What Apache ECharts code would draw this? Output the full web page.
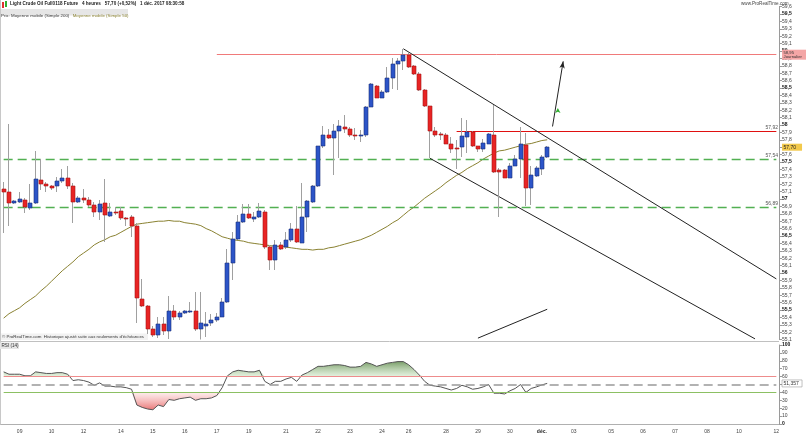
<!DOCTYPE html>
<html><head><meta charset="utf-8">
<script src="https://cdn.jsdelivr.net/npm/echarts@6/dist/echarts.min.js"></script>
<style>html,body{margin:0;padding:0;background:#fff}#c{width:806px;height:437px}</style>
</head><body><div id="c"></div><script>
// ---- time axis: days and 4h bars per day ----
const dayLabels  = ['08','09','10','12','13','14','15','16','17','19','20','21','22','23','24','26','27','28','29','30','déc.','03','04','05','06','07','08','10','11','12'];
const barsPerDay = [3,6,6,1,6,6,6,6,6,1,6,6,6,6,5,1,6,6,6,6,6,1,6,6,6,6,6,1,6,1];
const hiddenDayLabels = ['13','20','27','04','11'];

// ---- price candles (4 heures) ----
const opens  = [57.13,57.09,56.95,56.96,56.98,56.88,56.94,57.26,57.20,57.17,57.17,57.24,57.28,57.18,56.96,57.02,56.99,56.92,56.82,56.94,56.77,56.83,56.84,56.75,56.76,56.64,55.65,55.56,55.24,55.16,55.31,55.22,55.49,55.41,55.46,55.47,55.49,55.25,55.28,55.32,55.36,55.41,55.61,56.14,56.46,56.69,56.80,56.73,56.76,56.83,56.35,56.18,56.38,56.35,56.45,56.60,56.41,56.76,56.96,57.17,57.71,57.86,57.82,57.92,57.97,57.94,57.87,57.86,57.87,58.25,58.53,58.37,58.44,58.63,58.82,58.87,58.94,58.80,58.69,58.47,58.26,57.92,57.88,57.86,57.75,57.69,57.70,57.84,57.91,57.71,57.67,57.75,57.87,57.39,57.39,57.29,57.45,57.54,57.73,57.15,57.31,57.41,57.57];
const closes = [57.09,56.94,56.97,57.00,56.89,56.94,57.27,57.20,57.17,57.15,57.24,57.28,57.18,56.96,57.02,56.99,56.92,56.82,56.93,56.78,56.82,56.81,56.75,56.73,56.64,55.66,55.56,55.24,55.16,55.31,55.22,55.49,55.40,55.46,55.48,55.49,55.25,55.32,55.31,55.36,55.41,55.61,56.14,56.46,56.69,56.80,56.75,56.76,56.84,56.35,56.18,56.38,56.33,56.45,56.59,56.42,56.76,56.97,57.18,57.71,57.86,57.82,57.92,57.98,57.94,57.87,57.86,57.87,58.25,58.55,58.37,58.44,58.63,58.82,58.87,58.94,58.79,58.69,58.47,58.26,57.92,57.87,57.86,57.75,57.67,57.67,57.85,57.91,57.71,57.67,57.76,57.88,57.37,57.36,57.29,57.45,57.54,57.74,57.15,57.33,57.42,57.57,57.70];
const lows   = [56.54,56.63,56.93,56.94,56.81,56.85,56.93,57.12,57.10,57.12,57.10,57.21,57.14,56.67,56.94,56.94,56.89,56.76,56.72,56.42,56.76,56.78,56.72,56.63,56.49,55.32,55.54,55.18,55.14,55.12,55.16,55.11,55.36,55.36,55.45,55.46,55.22,55.10,55.14,55.28,55.34,55.40,55.59,55.91,56.45,56.68,56.73,56.69,56.74,56.32,56.04,56.04,56.31,56.33,56.42,56.40,56.40,56.56,56.95,57.16,57.69,57.81,57.32,57.55,57.89,57.84,57.80,57.77,57.84,58.24,58.36,58.36,58.43,58.48,58.47,58.74,58.77,58.68,58.46,58.25,57.55,57.84,57.80,57.74,57.62,57.41,57.57,57.62,57.70,57.64,57.64,57.74,57.35,56.76,57.28,57.28,57.44,57.28,56.90,56.92,57.30,57.32,57.56];
const highs  = [57.23,58.02,56.99,57.10,57.02,57.20,57.65,57.54,57.23,57.19,57.30,57.41,57.45,57.21,57.04,57.14,57.03,56.96,56.99,57.27,56.94,56.89,56.89,56.76,56.78,56.67,55.92,55.57,55.29,55.41,55.41,55.69,55.57,55.49,55.50,55.61,55.74,55.74,55.47,55.45,55.46,55.66,56.33,56.55,56.78,56.93,56.93,56.82,56.95,56.85,56.38,56.45,56.42,56.56,56.67,56.90,57.22,56.99,57.19,57.72,57.98,57.94,58.02,58.07,58.14,57.97,57.96,57.93,58.26,58.57,58.54,58.47,58.79,58.90,58.90,59.03,58.97,58.81,58.71,58.48,58.26,57.97,57.91,57.89,57.84,57.80,58.10,58.07,57.92,57.72,57.81,57.89,58.27,57.42,57.41,57.48,57.59,57.97,57.89,57.44,57.45,57.59,57.71];

// ---- Moyenne mobile (Simple 50) ----
const ma50 = [55.39,55.45,55.49,55.53,55.59,55.64,55.69,55.76,55.82,55.89,55.96,56.03,56.09,56.15,56.22,56.27,56.32,56.38,56.42,56.45,56.49,56.51,56.55,56.59,56.63,56.66,56.67,56.68,56.69,56.70,56.70,56.71,56.70,56.70,56.68,56.67,56.66,56.64,56.60,56.57,56.53,56.49,56.47,56.45,56.44,56.43,56.41,56.40,56.39,56.38,56.37,56.36,56.36,56.35,56.34,56.33,56.32,56.32,56.31,56.32,56.32,56.34,56.35,56.37,56.39,56.41,56.43,56.45,56.48,56.51,56.55,56.59,56.63,56.68,56.72,56.78,56.84,56.89,56.95,57.01,57.06,57.11,57.16,57.22,57.27,57.32,57.36,57.41,57.45,57.49,57.54,57.58,57.62,57.65,57.66,57.68,57.70,57.72,57.74,57.75,57.77,57.79,57.80];

// ---- RSI (14) ----
const rsi14 = [66,63,63,63,61,61,66,65,64,64,65,65,63,55,56,55,53,49,52,48,48,47,47,46,44,24,21,19,18,24,22,31,30,32,33,34,30,32,32,33,36,46,61,66,68,67,66,66,68,54,50,54,54,57,59,54,62,65,69,73,73,74,75,75,74,72,72,73,78,76,73,75,77,78,79,79,75,69,62,54,49,48,47,45,43,45,49,47,44,45,47,50,39,39,38,42,45,50,40,45,47,49.5,51.357];
const rsiUpper = 60, rsiMid = 50, rsiLower = 40, rsiLast = 51.357;

// ---- levels & drawings ----
const lastPrice = 57.70;
const dailyLevel = 58.95;
const resistance = {value:57.92, from:85};
const greenLevels = [57.54, 56.89];
const trendLines = [
  [[75,59.03],[145,55.92]],
  [[80,57.55],[141,55.11]],
  [[89,55.12],[102,55.51]]
];
const arrowLine = [[103,57.98],[105,58.86]];
const upMarker = [104, 58.23];

// ---- build categories ----
const categories = [];
const firstOfDay = {};
dayLabels.forEach((d, di) => {
  for (let k = 0; k < barsPerDay[di]; k++) {
    if (k === 0) firstOfDay[categories.length] = d;
    categories.push(d + '|' + di + '|' + k);
  }
});
const lastIdx = categories.length - 1;
const candleData = opens.map((o, i) => [i, o, closes[i], lows[i], highs[i]]);

const fmtPrice = v => {
  const r = Math.round(v * 10) / 10;
  const s = (Math.abs(r - Math.round(r)) < 1e-6) ? String(Math.round(r)) : r.toFixed(1).replace('.', ',');
  const bold = Math.abs(r * 2 - Math.round(r * 2)) < 1e-6;
  return bold ? '{b|' + s + '}' : s;
};
const FONT = 'Liberation Sans';
const lvlLabel = v => v.toFixed(2).replace('.', ',');

const segSeries = (grid, pairs, lineStyle, z) => ({
  type: 'line', xAxisIndex: grid, yAxisIndex: grid, data: [], symbol: 'none', z: z || 3,
  markLine: {silent: true, symbol: 'none', animation: false, lineStyle: lineStyle, label: {show: false},
    data: pairs.map(p => [{coord: p[0]}, {coord: p[1]}])}
});

const baseGraphic = [
  {type: 'rect', shape: {x: 2, y: 2, width: 2, height: 6}, style: {fill: '#e03030'}},
  {type: 'rect', shape: {x: 5, y: 1, width: 2, height: 6}, style: {fill: '#30b030'}},
  {type: 'text', x: 10, y: 1.5, style: {text: 'Light Crude Oil Full0118 Future   4 heures   57,70 (+0,52%)   1 déc. 2017 08:30:58',
    fontSize: 4.6, fontWeight: 'bold', fill: '#222', fontFamily: FONT}},
  {type: 'rect', shape: {x: 0, y: 9, width: 128, height: 6.5}, style: {fill: '#e6e6e6'}},
  {type: 'text', x: 1, y: 10, style: {
    text: '{a|Prix: Moyenne mobile (Simple 200)} {b|Moyenne mobile (Simple 50)}',
    rich: {a: {fontSize: 4.4, fill: '#333', fontFamily: FONT}, b: {fontSize: 4.4, fill: '#8a8232', fontFamily: FONT}}}},
  {type: 'text', x: 741, y: 1.5, style: {text: 'www.ProRealTime.com', fontSize: 4.6, fill: '#444', fontFamily: FONT}},
  {type: 'rect', shape: {x: 0, y: 333.5, width: 148, height: 6.5}, style: {fill: 'rgba(240,240,240,0.85)'}},
  {type: 'text', x: 2, y: 334.5, style: {text: '© ProRealTime.com  Historique ajusté suite aux roulements d\'échéances', fontSize: 4.4, fill: '#333', fontFamily: FONT}},
  {type: 'line', shape: {x1: 0, y1: 341.5, x2: 779, y2: 341.5}, style: {stroke: '#c0c0c0', lineWidth: 1}},
  {type: 'line', shape: {x1: 0.5, y1: 0, x2: 0.5, y2: 425}, style: {stroke: '#c8c8c8', lineWidth: 1}},
  {type: 'rect', shape: {x: 0, y: 342.5, width: 19, height: 6.5}, style: {fill: '#e6e6e6'}},
  {type: 'text', x: 1.5, y: 343.5, style: {text: 'RSI (14)', fontSize: 4.6, fill: '#333', fontFamily: FONT}}
];

const chart = echarts.init(document.getElementById('c'), null, {renderer: 'canvas', width: 806, height: 437});
const option = {
  animation: false,
  backgroundColor: '#ffffff',
  textStyle: {fontFamily: FONT},
  grid: [
    {left: 1, top: 6.6, width: 778, height: 333},
    {left: 1, top: 345, width: 778, height: 79}
  ],
  xAxis: [
    {type: 'category', gridIndex: 0, data: categories, boundaryGap: true,
     axisLine: {show: false}, axisTick: {show: false}, axisLabel: {show: false}, splitLine: {show: false}},
    {type: 'category', gridIndex: 1, data: categories, boundaryGap: true,
     axisLine: {show: true, lineStyle: {color: '#b0b0b0'}}, axisTick: {show: false},
     axisLabel: {
       interval: (i) => i > 0 && firstOfDay[i] !== undefined && hiddenDayLabels.indexOf(firstOfDay[i]) < 0,
       formatter: (v) => { const d = v.split('|')[0]; return d === 'déc.' ? '{b|' + d + '}' : d; },
       fontSize: 5, color: '#444', margin: 5, fontFamily: FONT,
       rich: {b: {fontSize: 5, fontWeight: 'bold', color: '#222', fontFamily: FONT}}
     },
     splitLine: {show: false}}
  ],
  yAxis: [
    {type: 'value', gridIndex: 0, position: 'right', min: 55.1, max: 59.6, interval: 0.1,
     axisLine: {show: true, lineStyle: {color: '#9a9a9a'}},
     axisTick: {show: true, length: 3, lineStyle: {color: '#9a9a9a'}},
     axisLabel: {formatter: fmtPrice, fontSize: 5, color: '#444', margin: 3, fontFamily: FONT,
                 rich: {b: {fontSize: 5, fontWeight: 'bold', color: '#111', fontFamily: FONT}}},
     splitLine: {show: false}},
    {type: 'value', gridIndex: 1, position: 'right', min: 0, max: 100, interval: 10,
     axisLine: {show: true, lineStyle: {color: '#9a9a9a'}},
     axisTick: {show: true, length: 3, lineStyle: {color: '#9a9a9a'}},
     axisLabel: {formatter: v => v === 50 ? '' : ((v === 100 || v === 0) ? '{b|' + v + '}' : String(v)),
                 fontSize: 5, color: '#444', margin: 3, fontFamily: FONT,
                 rich: {b: {fontSize: 5, fontWeight: 'bold', color: '#111', fontFamily: FONT}}},
     splitLine: {show: false}}
  ],
  series: [
    {
      type: 'custom', name: 'Prix', xAxisIndex: 0, yAxisIndex: 0, data: candleData,
      encode: {x: 0, y: [1, 2, 3, 4]}, z: 5, clip: true,
      renderItem: (params, api) => {
        const i = api.value(0), o = api.value(1), c = api.value(2), l = api.value(3), h = api.value(4);
        const pO = api.coord([i, o]), pC = api.coord([i, c]), pL = api.coord([i, l]), pH = api.coord([i, h]);
        const cx = Math.round(pO[0]);
        const up = c >= o;
        const top = Math.round(Math.min(pO[1], pC[1])), bot = Math.round(Math.max(pO[1], pC[1]));
        return {type: 'group', children: [
          {type: 'line', shape: {x1: cx - 0.5, y1: Math.round(pH[1]), x2: cx - 0.5, y2: Math.round(pL[1])},
           style: {stroke: '#a0a0a0', lineWidth: 1}},
          {type: 'rect', shape: {x: cx - 2, y: top, width: 4, height: Math.max(bot - top, 1)},
           style: {fill: up ? '#2c54c8' : '#e82424', stroke: up ? '#1b2f7a' : '#a51616', lineWidth: 0.6}}
        ]};
      }
    },
    segSeries(0, greenLevels.map(v => [[0, v], [lastIdx, v]]), {color: '#52b052', type: [9, 5], width: 1.3}),
    segSeries(0, [[[resistance.from, resistance.value], [lastIdx, resistance.value]]], {color: '#e01010', type: 'solid', width: 1}),
    segSeries(0, [[[40, dailyLevel], [lastIdx, dailyLevel]]], {color: '#f07a7a', type: 'solid', width: 1}),
    segSeries(0, trendLines, {color: '#222', type: 'solid', width: 1}, 6),
    {
      type: 'line', xAxisIndex: 0, yAxisIndex: 0, data: [], symbol: 'none', z: 6,
      markLine: {silent: true, symbol: 'none', animation: false,
        lineStyle: {color: '#222', type: 'solid', width: 1}, label: {show: false},
        data: [[{coord: arrowLine[0], symbol: 'none'}, {coord: arrowLine[1], symbol: 'arrow', symbolSize: [4, 7]}]]},
      markPoint: {silent: true, animation: false,
        data: [{coord: upMarker, symbol: 'arrow', symbolSize: [4, 5], itemStyle: {color: '#2eae2e'}, label: {show: false}}]}
    },
    {type: 'line', name: 'MM50', xAxisIndex: 0, yAxisIndex: 0, data: ma50, symbol: 'none', z: 4,
     lineStyle: {color: '#8a8232', width: 1}},
    // RSI
    {type: 'line', name: 'rsiGreenBase', xAxisIndex: 1, yAxisIndex: 1, stack: 'g', symbol: 'none',
     data: rsi14.map(() => rsiUpper), lineStyle: {width: 0, opacity: 0}, z: 2},
    {type: 'line', name: 'rsiGreen', xAxisIndex: 1, yAxisIndex: 1, stack: 'g', symbol: 'none',
     data: rsi14.map(v => Math.max(v - rsiUpper, 0)), lineStyle: {width: 0, opacity: 0}, z: 2,
     areaStyle: {color: new echarts.graphic.LinearGradient(0, 0, 0, 1, [
       {offset: 0, color: 'rgba(55,110,30,0.95)'}, {offset: 1, color: 'rgba(190,222,178,0.6)'}])}},
    {type: 'line', name: 'rsiRedBase', xAxisIndex: 1, yAxisIndex: 1, stack: 'r', symbol: 'none',
     data: rsi14.map(v => Math.min(v, rsiLower)), lineStyle: {width: 0, opacity: 0}, z: 2},
    {type: 'line', name: 'rsiRed', xAxisIndex: 1, yAxisIndex: 1, stack: 'r', symbol: 'none',
     data: rsi14.map(v => rsiLower - Math.min(v, rsiLower)), lineStyle: {width: 0, opacity: 0}, z: 2,
     areaStyle: {color: new echarts.graphic.LinearGradient(0, 0, 0, 1, [
       {offset: 0, color: 'rgba(252,210,210,0.6)'}, {offset: 1, color: 'rgba(222,50,50,0.95)'}])}},
    {type: 'line', name: 'RSI', xAxisIndex: 1, yAxisIndex: 1, data: rsi14, symbol: 'none', z: 4,
     lineStyle: {color: '#555', width: 1}},
    segSeries(1, [[[0, rsiUpper], [lastIdx, rsiUpper]]], {color: '#ee8c8c', type: 'solid', width: 1}),
    segSeries(1, [[[0, rsiLower], [lastIdx, rsiLower]]], {color: '#8cc063', type: 'solid', width: 1}),
    segSeries(1, [[[0, rsiMid], [lastIdx, rsiMid]]], {color: '#999', type: [9, 5], width: 1.5})
  ],
  graphic: baseGraphic
};
chart.setOption(option);

// value labels positioned through the chart's own axes
const py = v => chart.convertToPixel({yAxisIndex: 0}, v);
const ry = v => chart.convertToPixel({yAxisIndex: 1}, v);
const plotRight = chart.convertToPixel({xAxisIndex: 0}, lastIdx) + 2.7;
const extra = [];
greenLevels.concat([resistance.value]).forEach(v => {
  extra.push({type: 'text', x: plotRight - 1, y: py(v) - 1, z: 20,
    style: {text: lvlLabel(v), fontSize: 5, fill: '#555', fontFamily: FONT, align: 'right', verticalAlign: 'bottom'}});
});
const box = (y, h, w, fill, stroke) => ({type: 'rect', z: 20, shape: {x: plotRight + 3, y: y - h / 2, width: w, height: h},
  style: {fill: fill, stroke: stroke || null, lineWidth: stroke ? 0.6 : 0}});
extra.push(box(py(lastPrice), 7, 20, '#f2c94c'));
extra.push({type: 'text', z: 21, x: plotRight + 4.5, y: py(lastPrice), style: {text: lvlLabel(lastPrice), fontSize: 5, fill: '#222', fontFamily: FONT, verticalAlign: 'middle'}});
extra.push(box(py(dailyLevel), 10, 24, '#f4a6a6'));
extra.push({type: 'text', z: 21, x: plotRight + 4.5, y: py(dailyLevel), style: {text: lvlLabel(dailyLevel) + '\nJournalier', fontSize: 4.2, lineHeight: 4.6, fill: '#333', fontFamily: FONT, verticalAlign: 'middle'}});
extra.push(box(ry(rsiLast), 7, 20, '#ffffff', '#999'));
extra.push({type: 'text', z: 21, x: plotRight + 4.5, y: ry(rsiLast), style: {text: String(rsiLast).replace('.', ','), fontSize: 5, fill: '#333', fontFamily: FONT, verticalAlign: 'middle'}});
chart.setOption({graphic: baseGraphic.concat(extra)});
</script></body></html>
